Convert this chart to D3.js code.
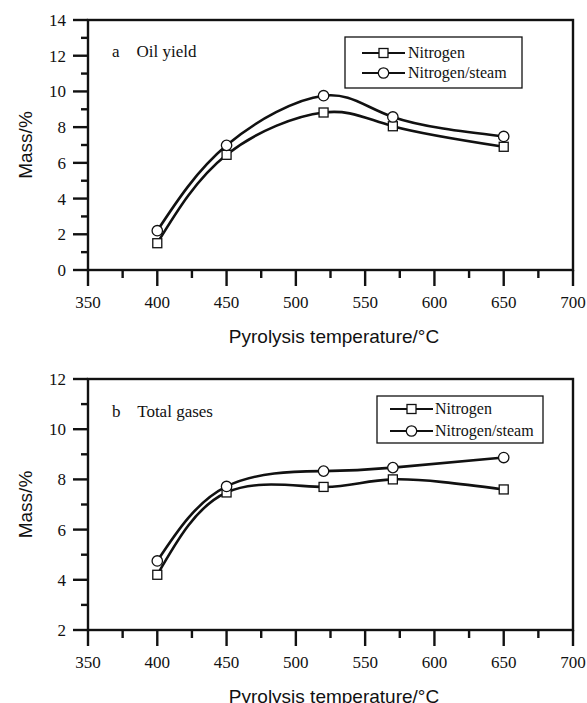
<!DOCTYPE html>
<html>
<head>
<meta charset="utf-8">
<script src="https://cdn.jsdelivr.net/npm/d3@7"></script>
<style>
  body { margin: 0; background: #fff; }
  svg { display: block; }
</style>
</head>
<body>
<script>
// ---- data ----
const temperatures = [400, 450, 520, 570, 650];
const oilNitrogen = [1.5, 6.45, 8.82, 8.05, 6.9];
const oilSteam = [2.2, 6.98, 9.76, 8.57, 7.48];
const gasNitrogen = [4.2, 7.48, 7.7, 8.0, 7.6];
const gasSteam = [4.75, 7.72, 8.33, 8.47, 8.87];
const xTicks = [350, 400, 450, 500, 550, 600, 650, 700];
const seriesNames = ["Nitrogen", "Nitrogen/steam"];
const panelLabels = ["a    Oil yield", "b    Total gases"];
const xTitle = "Pyrolysis temperature/\u00B0C";
const yTitle = "Mass/%";

const W = 587, H = 703;
const svg = d3.select("body").append("svg").attr("width", W).attr("height", H);

const serif = "'Liberation Serif', 'Times New Roman', serif";
const sans = "'Liberation Sans', Arial, sans-serif";

const panels = [
  { top: 20, bottom: 270, yDomain: [0, 14], yMajor: d3.range(0, 15, 2), yMinor: d3.range(1, 14, 2),
    series: [oilNitrogen, oilSteam], label: panelLabels[0], labelY: 57,
    legend: { x0: 345, y0: 37, x1: 522, y1: 88, rows: [53, 73], lineX0: 362, lineX1: 405, textX: 408 } },
  { top: 379, bottom: 630, yDomain: [2, 12], yMajor: d3.range(2, 13, 2), yMinor: d3.range(3, 12, 2),
    series: [gasNitrogen, gasSteam], label: panelLabels[1], labelY: 417,
    legend: { x0: 377, y0: 396, x1: 543, y1: 443, rows: [409, 431], lineX0: 390, lineX1: 433, textX: 435 } }
];

const left = 88, right = 573;
const x = d3.scaleLinear().domain([350, 700]).range([left, right]);
const xMinor = d3.range(375, 700, 50);

function drawMarker(g, type, cx, cy) {
  if (type === 0) {
    g.append("rect").attr("x", cx - 4.5).attr("y", cy - 4.5).attr("width", 9).attr("height", 9)
      .attr("fill", "#fff").attr("stroke", "#111").attr("stroke-width", 1.3);
  } else {
    g.append("circle").attr("cx", cx).attr("cy", cy).attr("r", 5.2)
      .attr("fill", "#fff").attr("stroke", "#111").attr("stroke-width", 1.3);
  }
}

panels.forEach(p => {
  const g = svg.append("g");
  const y = d3.scaleLinear().domain(p.yDomain).range([p.bottom, p.top]);

  // frame
  g.append("rect").attr("x", left).attr("y", p.top).attr("width", right - left).attr("height", p.bottom - p.top)
    .attr("fill", "none").attr("stroke", "#111").attr("stroke-width", 2.4);

  // y ticks
  p.yMajor.forEach(v => {
    g.append("line").attr("x1", left - 15).attr("x2", left).attr("y1", y(v)).attr("y2", y(v))
      .attr("stroke", "#111").attr("stroke-width", 2.4);
    g.append("text").attr("x", 66).attr("y", y(v)).attr("dy", "0.35em").attr("text-anchor", "end")
      .attr("font-family", serif).attr("font-size", 17).attr("fill", "#111").text(v);
  });
  p.yMinor.forEach(v => {
    g.append("line").attr("x1", left - 7).attr("x2", left).attr("y1", y(v)).attr("y2", y(v))
      .attr("stroke", "#111").attr("stroke-width", 2.4);
  });
  // x ticks
  xTicks.forEach(v => {
    g.append("line").attr("x1", x(v)).attr("x2", x(v)).attr("y1", p.bottom).attr("y2", p.bottom + 16)
      .attr("stroke", "#111").attr("stroke-width", 2.4);
    g.append("text").attr("x", x(v)).attr("y", p.bottom + 38).attr("text-anchor", "middle")
      .attr("font-family", serif).attr("font-size", 17).attr("fill", "#111").text(v);
  });
  xMinor.forEach(v => {
    g.append("line").attr("x1", x(v)).attr("x2", x(v)).attr("y1", p.bottom).attr("y2", p.bottom + 8)
      .attr("stroke", "#111").attr("stroke-width", 2.4);
  });

  // titles
  g.append("text").attr("x", 334).attr("y", p.bottom + 73).attr("text-anchor", "middle")
    .attr("font-family", sans).attr("font-size", 19).attr("fill", "#111").text(xTitle);
  const cy = (p.top + p.bottom) / 2;
  g.append("text").attr("transform", `translate(25,${cy}) rotate(-90)`).attr("text-anchor", "middle")
    .attr("dy", "0.35em").attr("font-family", sans).attr("font-size", 19).attr("fill", "#111").text(yTitle);

  // panel label
  g.append("text").attr("x", 112).attr("y", p.labelY).attr("xml:space", "preserve")
    .attr("font-family", serif).attr("font-size", 17).attr("fill", "#111").style("white-space", "pre").text(p.label);

  // curves
  const line = d3.line().x((d, i) => x(temperatures[i])).y(d => y(d)).curve(d3.curveNatural);
  p.series.forEach((s, k) => {
    g.append("path").attr("d", line(s)).attr("fill", "none").attr("stroke", "#111").attr("stroke-width", 2.6);
  });
  p.series.forEach((s, k) => {
    s.forEach((v, i) => drawMarker(g, k, x(temperatures[i]), y(v)));
  });

  // legend
  const L = p.legend;
  g.append("rect").attr("x", L.x0).attr("y", L.y0).attr("width", L.x1 - L.x0).attr("height", L.y1 - L.y0)
    .attr("fill", "#fff").attr("stroke", "#111").attr("stroke-width", 1.3);
  seriesNames.forEach((name, k) => {
    const ry = L.rows[k];
    g.append("line").attr("x1", L.lineX0).attr("x2", L.lineX1).attr("y1", ry).attr("y2", ry)
      .attr("stroke", "#111").attr("stroke-width", 2);
    drawMarker(g, k, (L.lineX0 + L.lineX1) / 2, ry);
    g.append("text").attr("x", L.textX).attr("y", ry).attr("dy", "0.33em")
      .attr("font-family", serif).attr("font-size", 16).attr("fill", "#111").text(name);
  });
});
</script>
</body>
</html>
